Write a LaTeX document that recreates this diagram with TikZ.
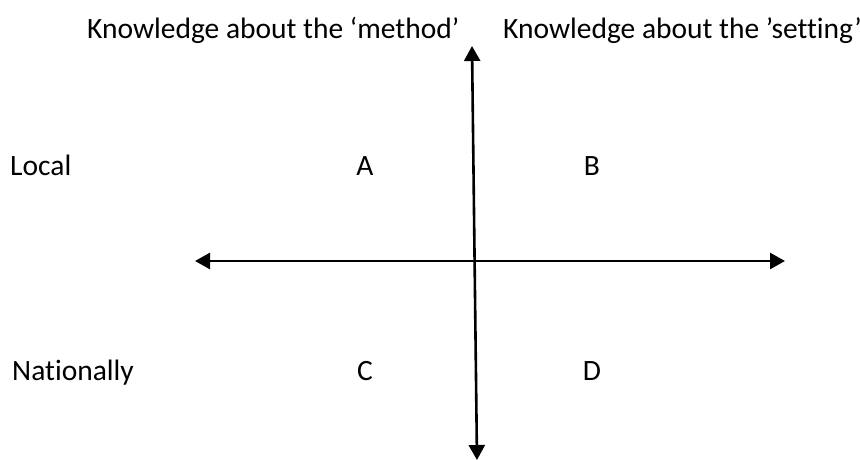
\documentclass[tikz,border=0pt]{standalone}
\usepackage{fontspec}
\setmainfont[Ligatures=NoCommon]{Carlito}
\usetikzlibrary{arrows.meta}
\begin{document}
\begin{tikzpicture}[x=1pt,y=-1pt,
  lbl/.style={anchor=base west,inner sep=0pt,font=\fontsize{29.5}{35}\selectfont},
  letter/.style={anchor=base,inner sep=0pt,font=\fontsize{29.5}{35}\selectfont},
  axis/.style={line width=2.6pt,{Triangle[length=15pt,width=16pt]}-{Triangle[length=15pt,width=16pt]}}]
\useasboundingbox (0,0) rectangle (860,459);
\node[lbl] (method) at (87,38) {Knowledge about the ‘method’};
\node[lbl] (setting) at (503,38) {Knowledge about the ’setting’};
\node[lbl] (local) at (10,175) {Local};
\node[lbl] (nat) at (12,380) {Nationally};
\node[letter] (A) at (365,175) {A};
\node[letter] (B) at (592,175) {B};
\node[letter] (C) at (365,380) {C};
\node[letter] (D) at (592,380) {D};
\coordinate (top) at (472,46);
\coordinate (bot) at (477,460);
\coordinate (left) at (195,261);
\coordinate (right) at (785,261);
\draw[axis] (bot) -- (top);
\draw[axis] (left) -- (right);
\end{tikzpicture}
\end{document}
